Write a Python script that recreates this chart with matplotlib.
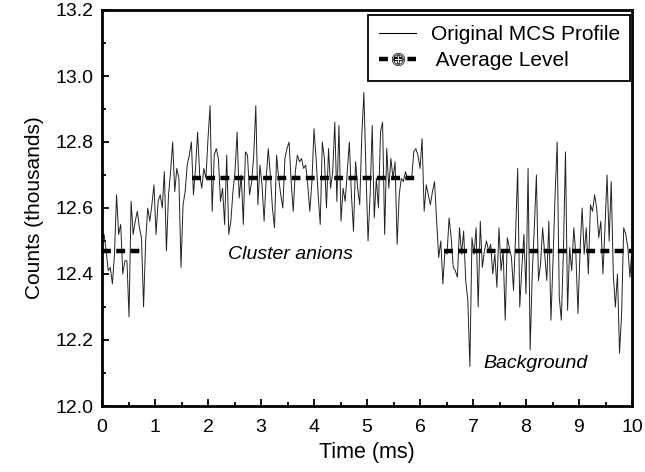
import numpy as np
import matplotlib
matplotlib.use('Agg')
import matplotlib.pyplot as plt
from matplotlib.lines import Line2D
from matplotlib.ticker import MultipleLocator

plt.rcParams['font.family'] = ['Liberation Sans', 'DejaVu Sans']

# counts (thousands), equal time bins from 0 to 10 ms
counts = [
    12.50, 12.52, 12.47, 12.41, 12.42, 12.37, 12.46, 12.64, 12.52, 12.55,
    12.40, 12.44, 12.44, 12.27, 12.62, 12.52, 12.56, 12.59, 12.54, 12.51,
    12.30, 12.50, 12.60, 12.56, 12.61, 12.67, 12.52, 12.62, 12.64, 12.60,
    12.71, 12.47, 12.64, 12.71, 12.80, 12.65, 12.72, 12.69, 12.42, 12.61,
    12.65, 12.73, 12.76, 12.80, 12.64, 12.72, 12.83, 12.70, 12.66, 12.72,
    12.69, 12.81, 12.91, 12.59, 12.76, 12.78, 12.75, 12.62, 12.66, 12.55,
    12.76, 12.52, 12.56, 12.65, 12.71, 12.83, 12.63, 12.70, 12.55, 12.77,
    12.76, 12.64, 12.68, 12.76, 12.91, 12.61, 12.73, 12.67, 12.56, 12.69,
    12.78, 12.70, 12.60, 12.54, 12.76, 12.69, 12.64, 12.60, 12.75, 12.78,
    12.80, 12.68, 12.59, 12.71, 12.76, 12.74, 12.75, 12.72, 12.73, 12.67,
    12.59, 12.68, 12.84, 12.75, 12.64, 12.55, 12.80, 12.75, 12.60, 12.78,
    12.66, 12.71, 12.86, 12.62, 12.85, 12.56, 12.66, 12.62, 12.71, 12.80,
    12.64, 12.53, 12.74, 12.66, 12.61, 12.82, 12.95, 12.71, 12.50, 12.64,
    12.85, 12.57, 12.69, 12.60, 12.83, 12.86, 12.52, 12.78, 12.66, 12.75,
    12.69, 12.74, 12.49, 12.64, 12.69, 12.68, 12.71, 12.69, 12.69, 12.69,
    12.77, 12.78, 12.76, 12.72, 12.81, 12.59, 12.67, 12.64, 12.61, 12.65,
    12.68, 12.56, 12.45, 12.50, 12.37, 12.47, 12.46, 12.57, 12.51, 12.42,
    12.41, 12.39, 12.54, 12.46, 12.53, 12.38, 12.32, 12.12, 12.51, 12.46,
    12.54, 12.30, 12.56, 12.42, 12.47, 12.50, 12.47, 12.49, 12.40, 12.46,
    12.36, 12.54, 12.41, 12.47, 12.26, 12.51, 12.48, 12.45, 12.35, 12.52,
    12.72, 12.30, 12.42, 12.52, 12.34, 12.72, 12.17, 12.40, 12.54, 12.70,
    12.38, 12.43, 12.54, 12.46, 12.38, 12.56, 12.26, 12.44, 12.64, 12.80,
    12.33, 12.26, 12.47, 12.77, 12.29, 12.48, 12.41, 12.54, 12.46, 12.28,
    12.47, 12.60, 12.46, 12.54, 12.40, 12.61, 12.59, 12.64, 12.60, 12.51,
    12.56, 12.40, 12.54, 12.70, 12.50, 12.68, 12.40, 12.30, 12.40, 12.16,
    12.28, 12.54, 12.52, 12.48, 12.39, 12.48,
]
time_ms = np.linspace(0, 10, len(counts))

# average levels: (start ms, end ms, level)
avg_start = [0.0, 1.7, 6.45]
avg_end = [0.8, 5.9, 10.0]
avg_level = [12.47, 12.69, 12.47]

dash = (0, (2.0, 1.2))

fig = plt.figure(figsize=(6.45, 4.72), dpi=100)
ax = fig.add_axes([102/645, 66/472, 530/645, 396/472])

ax.plot(time_ms, counts, color='#222222', lw=0.7)
for a, b, lev in zip(avg_start, avg_end, avg_level):
    ax.plot([a, b], [lev, lev], color='black', lw=3.2, linestyle=dash,
            solid_capstyle='butt', dash_capstyle='butt')

ax.set_xlim(0, 10)
ax.set_ylim(12.0, 13.2)
ax.xaxis.set_major_locator(MultipleLocator(1))
ax.xaxis.set_minor_locator(MultipleLocator(0.5))
ax.yaxis.set_major_locator(MultipleLocator(0.2))
ax.yaxis.set_minor_locator(MultipleLocator(0.1))
ax.yaxis.set_major_formatter(plt.FormatStrFormatter('%.1f'))
ax.tick_params(which='both', direction='in', width=1.3, labelsize=14)
ax.tick_params(axis='x', pad=9)
ax.tick_params(axis='y', pad=6)
ax.tick_params(which='major', length=5)
ax.tick_params(which='minor', length=3)
for s in ax.spines.values():
    s.set_linewidth(2.0)

ax.set_xlabel('Time (ms)', fontsize=15.5, labelpad=5)
ax.set_ylabel('Counts (thousands)', fontsize=15, labelpad=8)

ax.text(3.56, 12.46, 'Cluster anions', style='italic', fontsize=14,
        ha='center', va='center')
ax.text(8.18, 12.13, 'Background', style='italic', fontsize=14,
        ha='center', va='center')

handles = [
    Line2D([], [], color='black', lw=0.8),
    Line2D([], [], color='black', lw=3.2, linestyle=dash, dash_capstyle='butt',
           marker=r'$\oplus$', markersize=9, markerfacecolor='white',
           markeredgewidth=0.5),
]
leg = ax.legend(handles, ['Original MCS Profile', ' Average Level'],
                loc='upper right', bbox_to_anchor=(0.997, 0.988),
                borderaxespad=0, fancybox=False, framealpha=1,
                edgecolor='black', fontsize=15, handlelength=1.8,
                handletextpad=0.7, numpoints=1, borderpad=0.5,
                labelspacing=0.35)
leg.get_frame().set_linewidth(1.3)

fig.savefig('out.png', dpi=100)
